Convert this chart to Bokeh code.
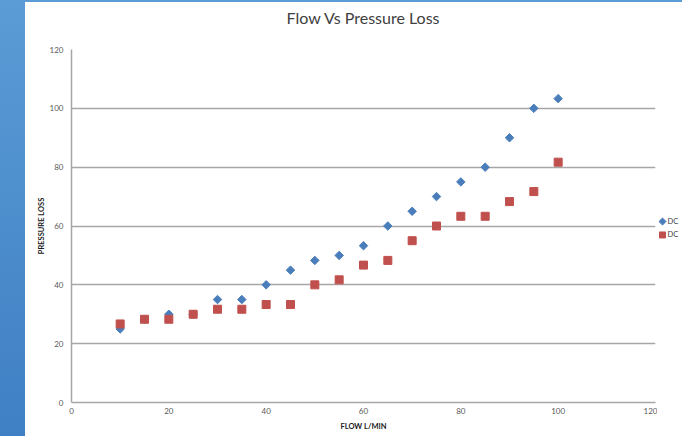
from bokeh.plotting import figure
from bokeh.models import Range1d, FixedTicker, ColumnDataSource, Div
from bokeh.layouts import row, column
from bokeh.core.properties import value
from bokeh.embed import file_html
from bokeh.resources import INLINE
import math

title_text = "Flow Vs Pressure Loss"
x_label = "FLOW L/MIN"
y_label = "PRESSURE LOSS"
series_names = ["DC", "DC"]

flow_a = [10, 15, 20, 25, 30, 35, 40, 45, 50, 55, 60, 65, 70, 75, 80, 85, 90, 95, 100]
loss_a = [25, 28.3, 30, 30, 35, 35, 40, 45, 48.3, 50, 53.3, 60, 65, 70, 75, 80, 90, 100, 103.3]

flow_b = [10, 15, 20, 25, 30, 35, 40, 45, 50, 55, 60, 65, 70, 75, 80, 85, 90, 95, 100]
loss_b = [26.7, 28.3, 28.3, 30, 31.7, 31.7, 33.3, 33.3, 40, 41.7, 46.7, 48.3, 55, 60, 63.3, 63.3, 68.3, 71.7, 81.7]

ticks = [0, 20, 40, 60, 80, 100, 120]

FONT = "Lato"
COLOR_A = "#4a7ebb"
COLOR_B = "#c0504d"

# --- title strip (own small svg figure, aligned with the plot frame) ---
t = figure(width=657, height=40, output_backend="svg", toolbar_location=None,
           x_range=Range1d(0, 120), y_range=Range1d(0, 1),
           min_border_left=46, min_border_right=27, min_border_top=0, min_border_bottom=0)
t.axis.visible = False
t.grid.visible = False
t.outline_line_color = None
t.text(x=[60], y=[0.62], text=[title_text], text_align="center", text_baseline="middle",
       text_font=value(FONT), text_font_size="16px", text_color="#404040")

# --- main plot ---
p = figure(width=632, height=394, output_backend="svg", toolbar_location=None,
           x_range=Range1d(0, 120), y_range=Range1d(0, 120),
           min_border_left=46, min_border_right=2, min_border_top=7, min_border_bottom=34)
p.outline_line_color = None
p.background_fill_color = "white"
p.border_fill_color = "white"

for ax in (p.xaxis[0], p.yaxis[0]):
    ax.ticker = FixedTicker(ticks=ticks)
    ax.major_tick_line_color = None
    ax.minor_tick_line_color = None
    ax.major_tick_out = 0
    ax.major_tick_in = 0
    ax.minor_tick_out = 0
    ax.minor_tick_in = 0
    ax.axis_line_color = "#a6a6a6"
    ax.axis_line_width = 1.5
    ax.major_label_text_font = FONT
    ax.major_label_text_font_size = "8px"
    ax.major_label_text_color = "#595959"
    ax.axis_label_text_font = FONT
    ax.axis_label_text_font_size = "7.5px"
    ax.axis_label_text_font_style = "bold"
    ax.axis_label_text_color = "#1a1a1a"

p.xaxis[0].axis_label = x_label
p.yaxis[0].axis_label = y_label
p.xaxis[0].major_label_standoff = 5
p.yaxis[0].major_label_standoff = 8
p.xaxis[0].axis_label_standoff = 5
p.yaxis[0].axis_label_standoff = 1

p.xgrid.grid_line_color = None
p.ygrid.ticker = FixedTicker(ticks=ticks)
p.ygrid.grid_line_color = "#a6a6a6"
p.ygrid.grid_line_width = 1.3

src_a = ColumnDataSource(dict(x=flow_a, y=loss_a))
src_b = ColumnDataSource(dict(x=flow_b, y=loss_b))

p.scatter("x", "y", source=src_a, marker="square", angle=math.pi / 4, size=6,
          fill_color=COLOR_A, line_color=COLOR_A)
p.scatter("x", "y", source=src_b, marker="square", size=8,
          fill_color=COLOR_B, line_color=COLOR_B)

# --- legend panel (small svg figure to the right of the plot) ---
lg = figure(width=25, height=394, output_backend="svg", toolbar_location=None,
            x_range=Range1d(0, 25), y_range=Range1d(0, 394),
            min_border_left=0, min_border_right=0, min_border_top=0, min_border_bottom=0)
lg.axis.visible = False
lg.grid.visible = False
lg.outline_line_color = None
lg.scatter(x=[5], y=[202], marker="square", angle=math.pi / 4, size=5,
           fill_color=COLOR_A, line_color=COLOR_A)
lg.scatter(x=[5], y=[187], marker="square", size=6,
           fill_color=COLOR_B, line_color=COLOR_B)
lg.text(x=[10, 10], y=[202, 187], text=series_names, text_align="left", text_baseline="middle",
        text_font=value(FONT), text_font_size="7.5px", text_color="#404040")

strip_top = Div(text="", width=25, height=40, margin=(0, 0, 0, 0),
                styles={"background": "linear-gradient(to bottom, #5b9cd6, #5899d4)",
                        "width": "25px", "height": "40px"})
strip_bottom = Div(text="", width=25, height=394, margin=(0, 0, 0, 0),
                   styles={"background": "linear-gradient(to bottom, #5899d4, #3f7fc4)",
                           "width": "25px", "height": "394px"})
top_bar = Div(text="", width=682, height=2, margin=(0, 0, 0, 0),
              styles={"background": "#5b9cd6", "width": "682px", "height": "2px"})

layout = column(top_bar, row(strip_top, t, spacing=0), row(strip_bottom, p, lg, spacing=0), spacing=0)

open("out.html", "w").write(file_html(layout, INLINE))
